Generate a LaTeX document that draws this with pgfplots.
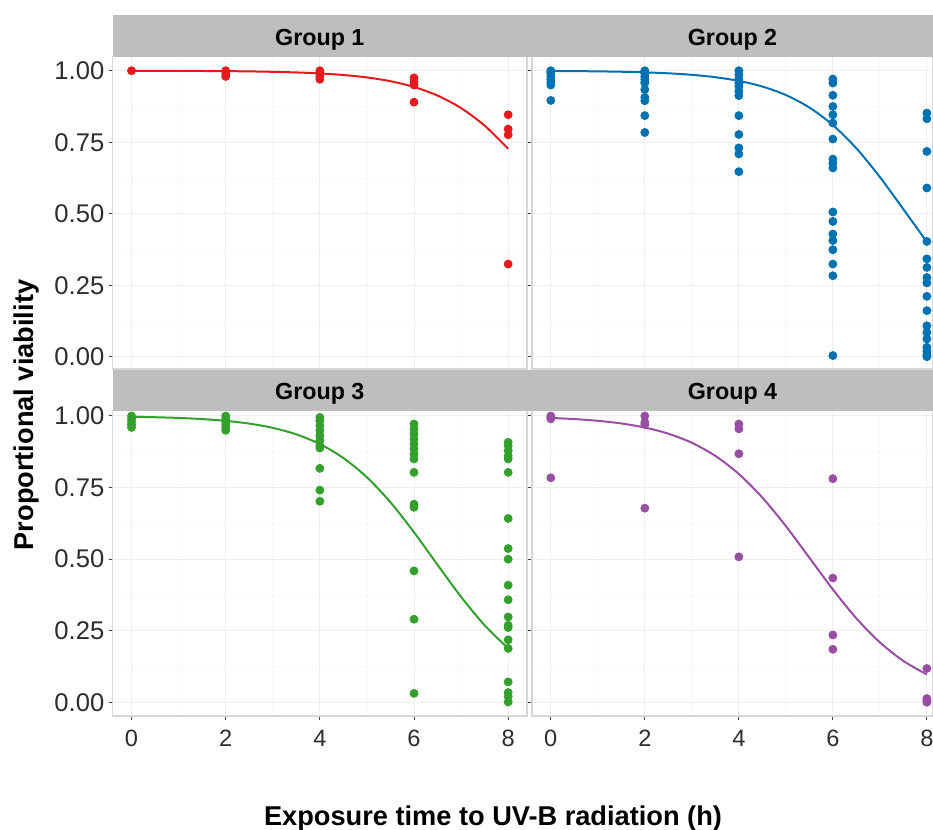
\documentclass[border=0pt]{standalone}
\usepackage{fontspec}
\setmainfont{Liberation Sans}
\usepackage{pgfplots}
\pgfplotsset{compat=1.18}
\definecolor{cred}{HTML}{E41A1C}
\definecolor{cblue}{HTML}{0072B2}
\definecolor{cgreen}{HTML}{33A02C}
\definecolor{cpurple}{HTML}{984EA3}
\definecolor{stripgray}{RGB}{190,190,190}
\definecolor{bordergray}{RGB}{215,215,215}
\definecolor{majgrid}{RGB}{238,238,238}
\definecolor{mingrid}{RGB}{247,247,247}
\definecolor{ticktext}{RGB}{45,45,45}
\pgfplotsset{
  panel/.style={
    scale only axis,
    anchor=south west,
    xmin=-0.4,
    xtick={0,2,4,6,8},
    minor xtick={1,3,5,7},
    ytick={0,0.25,0.5,0.75,1},
    minor ytick={0.125,0.375,0.625,0.875},
    yticklabels={0.00,0.25,0.50,0.75,1.00},
    grid=both,
    major grid style={draw=majgrid, line width=0.5pt},
    minor grid style={draw=mingrid, line width=0.4pt},
    axis line style={draw=bordergray, line width=0.6pt},
    tick align=outside,
    major tick length=2pt,
    minor tick length=0pt,
    tick style={draw=black!75, line width=0.5pt},
    clip=false,
    /pgf/number format/assume math mode=true,
    yticklabel style={font=\fontsize{12.8}{14}\selectfont, text=ticktext, inner sep=0pt},
    xticklabel style={font=\fontsize{11.8}{13}\selectfont, text=ticktext, inner sep=0pt},
    yticklabel shift=2pt,
    xticklabel shift=5pt,
  },
  toprow/.style={width=207.15pt, height=156.15pt, ymin=-0.043, ymax=1.049},
  botrow/.style={width=207.15pt, height=152.65pt, ymin=-0.048, ymax=1.0185},
  leftcol/.style={width=207.15pt, xmax=8.4},
  rightcol/.style={width=200.5pt, xmax=8.13, yticklabels={}, ytick style={draw=none}},
  noxlab/.style={xticklabels={}, xtick style={draw=none}},
  pts/.style={only marks, mark=*, mark size=2pt},
  fit/.style={no marks, line width=1pt, smooth},
}
\begin{document}
\begin{tikzpicture}
\useasboundingbox (0pt,0pt) rectangle (466.5pt,415pt);

% Group 1
\begin{axis}[panel, toprow, leftcol, noxlab, at={(56.35pt,230.5pt)}]
\addplot[pts, color=cred] coordinates {
(0,1.00)
(2,1.00)(2,0.99)(2,0.98)
(4,1.00)(4,0.99)(4,0.98)(4,0.97)
(6,0.975)(6,0.96)(6,0.95)(6,0.89)
(8,0.846)(8,0.796)(8,0.776)(8,0.324)
};
\addplot[fit, color=cred] coordinates {
(0,0.9998)(0.5,0.9996)(1,0.9994)(1.5,0.9990)(2,0.9985)(2.5,0.9976)(3,0.9961)(3.5,0.9939)
(4,0.9904)(4.5,0.9850)(5,0.9765)(5.5,0.9633)(6,0.9432)(6.5,0.9131)(7,0.8693)(7.5,0.8081)(8,0.7271)
};
\end{axis}

% Group 2
\begin{axis}[panel, toprow, rightcol, noxlab, at={(266pt,230.5pt)}]
\addplot[pts, color=cblue] coordinates {
(0,1.00)(0,0.995)(0,0.99)(0,0.98)(0,0.97)(0,0.96)(0,0.95)(0,0.896)
(2,1.00)(2,0.99)(2,0.98)(2,0.97)(2,0.96)(2,0.957)(2,0.934)(2,0.907)(2,0.895)(2,0.843)(2,0.784)
(4,1.00)(4,0.986)(4,0.971)(4,0.957)(4,0.945)(4,0.928)(4,0.913)(4,0.843)(4,0.777)(4,0.730)(4,0.709)(4,0.647)
(6,0.971)(6,0.957)(6,0.914)(6,0.875)(6,0.846)(6,0.817)(6,0.761)(6,0.691)(6,0.676)(6,0.660)
(6,0.506)(6,0.473)(6,0.429)(6,0.406)(6,0.374)(6,0.324)(6,0.283)(6,0.004)
(8,0.852)(8,0.832)(8,0.718)(8,0.590)(8,0.403)(8,0.342)(8,0.312)(8,0.277)(8,0.258)
(8,0.211)(8,0.161)(8,0.108)(8,0.085)(8,0.062)(8,0.033)(8,0.019)(8,0.007)(8,0.0)
};
\addplot[fit, color=cblue] coordinates {
(0,0.9991)(0.5,0.9986)(1,0.9977)(1.5,0.9964)(2,0.9942)(2.5,0.9909)(3,0.9856)(3.5,0.9773)
(4,0.9644)(4.5,0.9447)(5,0.9149)(5.5,0.8713)(6,0.8100)(6.5,0.7286)(7,0.6283)(7.5,0.5156)(8,0.4013)
};
\end{axis}

% Group 3
\begin{axis}[panel, botrow, leftcol, at={(56.35pt,57pt)}]
\addplot[pts, color=cgreen] coordinates {
(0,1.00)(0,0.99)(0,0.98)(0,0.97)(0,0.96)
(2,1.00)(2,0.99)(2,0.98)(2,0.97)(2,0.96)(2,0.95)
(4,0.995)(4,0.984)(4,0.966)(4,0.949)(4,0.931)(4,0.914)(4,0.896)(4,0.888)(4,0.817)(4,0.741)(4,0.702)
(6,0.972)(6,0.955)(6,0.937)(6,0.920)(6,0.902)(6,0.885)(6,0.867)(6,0.850)(6,0.803)(6,0.692)(6,0.681)(6,0.459)(6,0.290)(6,0.031)
(8,0.908)(8,0.896)(8,0.879)(8,0.861)(8,0.850)(8,0.803)(8,0.642)(8,0.537)(8,0.500)(8,0.409)
(8,0.358)(8,0.298)(8,0.269)(8,0.261)(8,0.218)(8,0.188)(8,0.071)(8,0.034)(8,0.020)(8,0.001)
};
\addplot[fit, color=cgreen] coordinates {
(0,0.9973)(0.5,0.9957)(1,0.9932)(1.5,0.9892)(2,0.9830)(2.5,0.9734)(3,0.9585)(3.5,0.9358)
(4,0.9020)(4.5,0.8532)(5,0.7858)(5.5,0.6985)(6,0.5939)(6.5,0.4800)(7,0.3682)(7.5,0.2689)(8,0.1885)
};
\end{axis}

% Group 4
\begin{axis}[panel, botrow, rightcol, at={(266pt,57pt)}]
\addplot[pts, color=cpurple] coordinates {
(0,1.00)(0,0.995)(0,0.99)(0,0.784)
(2,1.00)(2,0.978)(2,0.970)(2,0.678)
(4,0.972)(4,0.955)(4,0.868)(4,0.508)
(6,0.781)(6,0.434)(6,0.235)(6,0.185)
(8,0.118)(8,0.013)(8,0.005)(8,0.0)
};
\addplot[fit, color=cpurple] coordinates {
(0,0.9931)(0.5,0.9892)(1,0.9832)(1.5,0.9739)(2,0.9597)(2.5,0.9382)(3,0.9064)(3.5,0.8606)
(4,0.7974)(4.5,0.7151)(5,0.6154)(5.5,0.5050)(6,0.3941)(6.5,0.2932)(7,0.2092)(7.5,0.1443)(8,0.0971)
};
\end{axis}

% strips
\fill[stripgray] (56.35pt,386.65pt) rectangle (264.5pt,407.5pt);
\fill[stripgray] (264.5pt,386.65pt) rectangle (466.5pt,407.5pt);
\fill[stripgray] (56.35pt,209.65pt) rectangle (264.5pt,230pt);
\fill[stripgray] (264.5pt,209.65pt) rectangle (466.5pt,230pt);
\begin{scope}[every node/.style={font=\fontsize{11.65}{13}\selectfont\bfseries, inner sep=0pt, anchor=base}]
\node at (159.9pt,392.25pt) {Group 1};
\node at (366.25pt,392.25pt) {Group 2};
\node at (159.9pt,215pt) {Group 3};
\node at (366.25pt,215pt) {Group 4};
\end{scope}

% axis titles
\node[font=\fontsize{13.6}{15}\selectfont\bfseries, inner sep=0pt, anchor=base, rotate=90] at (16.8pt,207.5pt) {Proportional viability};
\node[font=\fontsize{13.6}{15}\selectfont\bfseries, inner sep=0pt, anchor=base] at (246.5pt,2.2pt) {Exposure time to UV-B radiation (h)};
\end{tikzpicture}
\end{document}
